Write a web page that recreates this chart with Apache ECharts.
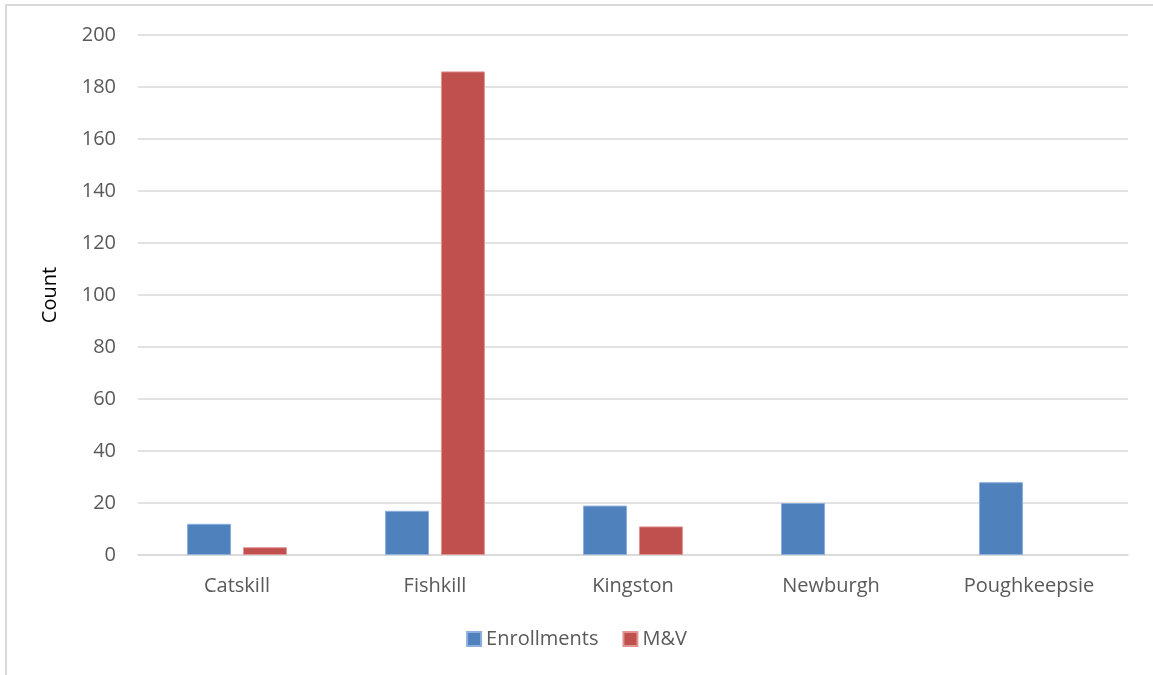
<!DOCTYPE html>
<html><head><meta charset="utf-8">
<script src="https://cdn.jsdelivr.net/npm/echarts@6/dist/echarts.min.js"></script>
<style>
html,body{margin:0;padding:0;background:#fff;}
#frame{position:absolute;left:5px;top:4px;width:1160px;height:690px;border:2px solid #d9d9d9;box-sizing:border-box;}
#c{position:absolute;left:0;top:0;width:1153px;height:675px;}
</style></head><body>
<div id="frame"></div>
<div id="c"></div>
<script>
const categories = ['Catskill','Fishkill','Kingston','Newburgh','Poughkeepsie'];
const enrollments = [12,17,19,20,28];
const mv = [3,186,11,null,null];
const yTicks = {min:0,max:200,interval:20};
const font = '"Open Sans", "Liberation Sans", sans-serif';
const chart = echarts.init(document.getElementById('c'), null, {renderer:'canvas'});
chart.setOption({
  animation:false,
  backgroundColor:'transparent',
  grid:{left:138,right:25,top:35,bottom:120,containLabel:false},
  legend:{bottom:21,left:'center',itemWidth:14,itemHeight:14,itemGap:24,icon:'rect',
    textStyle:{color:'#595959',fontSize:20,fontFamily:font},
    data:['Enrollments','M&V']},
  xAxis:{type:'category',data:categories,
    axisLine:{lineStyle:{color:'#d9d9d9',width:1.5}},
    axisTick:{show:false},
    axisLabel:{color:'#595959',fontSize:20,fontFamily:font,margin:21}},
  yAxis:{type:'value',min:yTicks.min,max:yTicks.max,interval:yTicks.interval,
    name:'Count',nameLocation:'middle',nameGap:78,nameRotate:90,
    nameTextStyle:{color:'#000',fontSize:20,fontFamily:font},
    axisLine:{show:false},axisTick:{show:false},
    axisLabel:{color:'#595959',fontSize:20,fontFamily:font,margin:22},
    splitLine:{lineStyle:{color:'#d9d9d9',width:1.5}}},
  series:[
    {name:'Enrollments',type:'bar',data:enrollments,barWidth:44,barGap:'27%',
      itemStyle:{color:'#4F81BD',borderColor:'#8eaedb',borderWidth:1}},
    {name:'M&V',type:'bar',data:mv,barWidth:44,
      itemStyle:{color:'#C0504D',borderColor:'#e09593',borderWidth:1}}
  ]
});
</script></body></html>
